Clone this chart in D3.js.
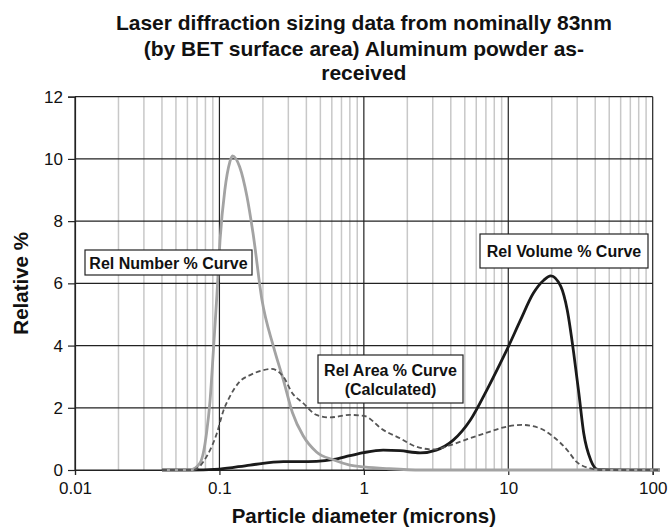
<!DOCTYPE html>
<html lang="en">
<head>
    <meta charset="UTF-8">
    <title>Laser diffraction sizing data</title>
    <style>
        body {
            margin: 0;
            background: #fff;
            font-family: 'Liberation Sans', Arial, sans-serif;
        }
        .grid-minor { stroke: #c8c8c8; stroke-width: 1.5; }
        .grid-major { stroke: #222; stroke-width: 1.2; }
        .axis text { font-family: 'Liberation Sans', Arial, sans-serif; font-size: 17px; fill: #111; }
        .axis path, .axis line { stroke: #222; stroke-width: 1.2; }
        .label-box { fill: #fff; stroke: #222; stroke-width: 1.2; }
        .label-text { font-size: 16px; font-weight: bold; fill: #111; }
    </style>
    <script src="https://d3js.org/d3.v7.min.js"></script>
</head>
<body>
<div id="chart"></div>
<script>
    // particle diameter (microns) and relative %
    var numberSize = [0.04, 0.0626, 0.0733, 0.0815, 0.086, 0.091, 0.096, 0.101, 0.109, 0.118, 0.123, 0.138, 0.155, 0.171, 0.197, 0.237, 0.277, 0.32, 0.38, 0.47, 0.62, 0.8, 1.0, 1.5, 2.5, 112];
    var numberPct  = [0, 0, 0.22, 1.2, 2.2, 3.9, 5.6, 7.4, 9.0, 9.9, 10.1, 9.75, 8.8, 7.6, 5.47, 3.96, 2.9, 1.85, 1.1, 0.58, 0.32, 0.16, 0.1, 0.04, 0, 0];

    var volumeSize = [0.04, 0.06, 0.1, 0.163, 0.277, 0.36, 0.47, 0.62, 0.8, 1.0, 1.36, 1.78, 2.45, 3.17, 4.16, 5.45, 7.1, 8.8, 10, 12.1, 14.9, 17.6, 19.7, 23.1, 25.6, 28.4, 30.8, 33.3, 37.2, 41.7, 112];
    var volumePct  = [0, 0, 0.03, 0.16, 0.27, 0.27, 0.28, 0.34, 0.46, 0.56, 0.64, 0.62, 0.55, 0.64, 0.96, 1.6, 2.57, 3.43, 3.96, 4.8, 5.68, 6.1, 6.24, 5.9, 5.14, 3.75, 2.47, 1.18, 0.32, 0.02, 0];

    var areaSize = [0.04, 0.066, 0.0815, 0.096, 0.107, 0.118, 0.138, 0.163, 0.201, 0.229, 0.277, 0.32, 0.38, 0.47, 0.58, 0.8, 1.0, 1.36, 1.78, 2.3, 3.04, 3.97, 5.2, 7.1, 9.7, 12.4, 16.6, 20.5, 25.6, 29.6, 37.2, 42.8, 112];
    var areaPct  = [0, 0, 0.43, 1.18, 1.93, 2.36, 2.84, 3.05, 3.21, 3.25, 3.0, 2.47, 2.15, 1.77, 1.69, 1.77, 1.74, 1.29, 1.02, 0.75, 0.66, 0.8, 0.99, 1.2, 1.39, 1.45, 1.34, 1.07, 0.64, 0.27, 0.05, 0, 0];

    var xTicks = [0.01, 0.1, 1, 10, 100];
    var xTickLabels = ["0.01", "0.1", "1", "10", "100"];
    var yTicks = [0, 2, 4, 6, 8, 10, 12];

    var titleLines = ["Laser diffraction sizing data from nominally 83nm", "(by BET surface area) Aluminum powder as-", "received"];

    var width = 669, height = 530;
    var margin = {top: 96.7, right: 16.3, bottom: 60, left: 75};

    var svg = d3.select("#chart").append("svg")
        .attr("width", width)
        .attr("height", height);

    var x = d3.scaleLog()
        .domain([0.01, 100])
        .range([margin.left, width - margin.right]);

    var y = d3.scaleLinear()
        .domain([0, 12])
        .range([height - margin.bottom, margin.top]);

    // minor vertical grid (2..9 in each decade)
    var minor = [];
    xTicks.slice(0, -1).forEach(function(d) {
        for (var k = 2; k <= 9; k++) minor.push(d * k);
    });
    svg.append("g").selectAll("line")
        .data(minor)
        .enter().append("line")
        .attr("class", "grid-minor")
        .attr("x1", function(d) { return x(d); })
        .attr("x2", function(d) { return x(d); })
        .attr("y1", y(0))
        .attr("y2", y(12));

    // major grid
    svg.append("g").selectAll("line")
        .data(xTicks)
        .enter().append("line")
        .attr("class", "grid-major")
        .attr("x1", function(d) { return x(d); })
        .attr("x2", function(d) { return x(d); })
        .attr("y1", y(0))
        .attr("y2", y(12));

    svg.append("g").selectAll("line")
        .data(yTicks)
        .enter().append("line")
        .attr("class", "grid-major")
        .attr("x1", x(0.01))
        .attr("x2", x(100))
        .attr("y1", function(d) { return y(d); })
        .attr("y2", function(d) { return y(d); });

    // axes
    svg.append("g")
        .attr("class", "axis")
        .attr("transform", "translate(0," + y(0) + ")")
        .call(d3.axisBottom(x)
            .tickValues(xTicks)
            .tickSize(5)
            .tickPadding(7)
            .tickFormat(function(d, i) { return xTickLabels[i]; }));

    svg.append("g")
        .attr("class", "axis")
        .attr("transform", "translate(" + x(0.01) + ",0)")
        .call(d3.axisLeft(y)
            .tickValues(yTicks)
            .tickSize(7)
            .tickPadding(5));

    // curves
    function series(xs, ys) {
        return xs.map(function(d, i) { return [d, ys[i]]; });
    }
    var line = d3.line()
        .x(function(d) { return x(d[0]); })
        .y(function(d) { return y(d[1]); })
        .curve(d3.curveMonotoneX);

    svg.append("path")
        .datum(series(volumeSize, volumePct))
        .attr("d", line)
        .attr("fill", "none")
        .attr("stroke", "#1a1a1a")
        .attr("stroke-width", 2.8);

    svg.append("path")
        .datum(series(numberSize, numberPct))
        .attr("d", line)
        .attr("fill", "none")
        .attr("stroke", "#a3a3a3")
        .attr("stroke-width", 2.8);

    svg.append("path")
        .datum(series(areaSize, areaPct))
        .attr("d", line)
        .attr("fill", "none")
        .attr("stroke", "#555")
        .attr("stroke-width", 1.8)
        .attr("stroke-dasharray", "5,3");

    // curve labels
    function labelBox(x0, y0, w, h, lines) {
        var g = svg.append("g");
        g.append("rect")
            .attr("class", "label-box")
            .attr("x", x0).attr("y", y0)
            .attr("width", w).attr("height", h);
        lines.forEach(function(t, i) {
            g.append("text")
                .attr("class", "label-text")
                .attr("x", x0 + w / 2)
                .attr("y", y0 + h / 2 + 6 + (i - (lines.length - 1) / 2) * 19)
                .attr("text-anchor", "middle")
                .text(t);
        });
    }
    labelBox(85, 250, 167, 25, ["Rel Number % Curve"]);
    labelBox(480, 234, 168, 34, ["Rel Volume % Curve"]);
    labelBox(318, 355, 145, 48, ["Rel Area % Curve", "(Calculated)"]);

    // title
    var titleY = [30, 56, 80];
    titleLines.forEach(function(t, i) {
        svg.append("text")
            .attr("x", (x(0.01) + x(100)) / 2)
            .attr("y", titleY[i])
            .attr("text-anchor", "middle")
            .style("font-size", "21px")
            .style("font-weight", "bold")
            .style("fill", "#111")
            .text(t);
    });

    // axis titles
    svg.append("text")
        .attr("x", (x(0.01) + x(100)) / 2)
        .attr("y", 523)
        .attr("text-anchor", "middle")
        .style("font-size", "20.5px")
        .style("font-weight", "bold")
        .style("fill", "#111")
        .text("Particle diameter (microns)");

    svg.append("text")
        .attr("transform", "translate(28," + y(6) + ") rotate(-90)")
        .attr("text-anchor", "middle")
        .style("font-size", "20.5px")
        .style("font-weight", "bold")
        .style("fill", "#111")
        .text("Relative %");
</script>
</body>
</html>
